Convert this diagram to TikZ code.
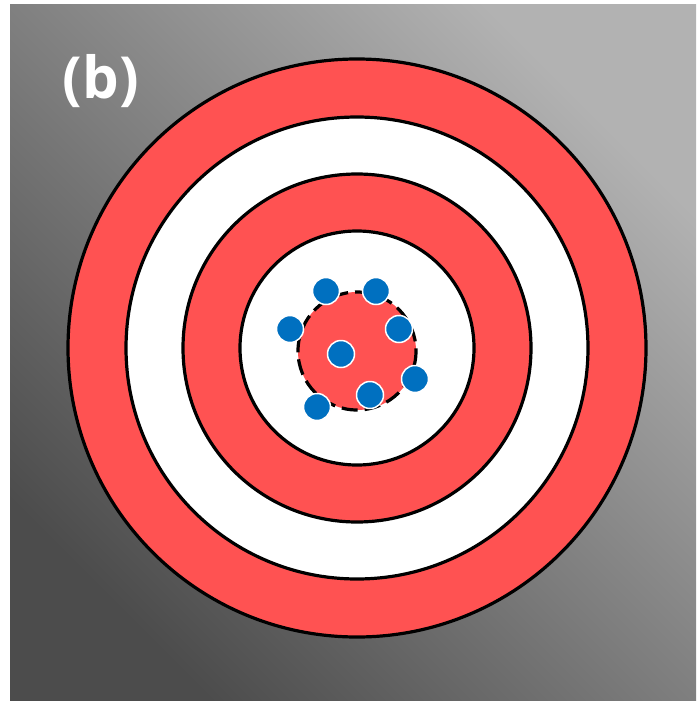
\documentclass[tikz,border=0pt]{standalone}
\usepackage{fontspec}
\setsansfont{Open Sans}
\begin{document}
\begin{tikzpicture}[x=1pt,y=-1pt,
  ring/.style={draw=black,line width=3.2pt},
  shot/.style={circle,fill=dotblue,draw=white,line width=1.5pt,minimum size=27pt,inner sep=0pt},
]
\definecolor{tred}{RGB}{255,82,82}
\definecolor{dotblue}{RGB}{0,112,192}
\useasboundingbox (0,0) rectangle (696,701);
\fill[white] (0,0) rectangle (696,701);
\shade[shading=axis,top color=black!30,bottom color=black!70,shading angle=-45] (10,5) rectangle (696,701);
\coordinate (c) at (357,348);
\fill[tred,ring] (c) circle (289);
\fill[white,ring] (c) circle (231);
\fill[tred,ring] (c) circle (174);
\fill[white,ring] (c) circle (117);
\fill[tred] (357,351) circle (59);
\draw[black,line width=3.2pt,dash pattern=on 16pt off 7pt] (357,351) circle (59);
\node[text=white,font=\sffamily\bfseries\fontsize{58}{62}\selectfont] (lbl) at (101,81) {(b)};
\node[shot] (s1) at (326,291) {};
\node[shot] (s2) at (376,291) {};
\node[shot] (s3) at (290,329) {};
\node[shot] (s4) at (399,329) {};
\node[shot] (s5) at (341,354) {};
\node[shot] (s6) at (415,379) {};
\node[shot] (s7) at (370,395) {};
\node[shot] (s8) at (317,407) {};
\end{tikzpicture}
\end{document}
